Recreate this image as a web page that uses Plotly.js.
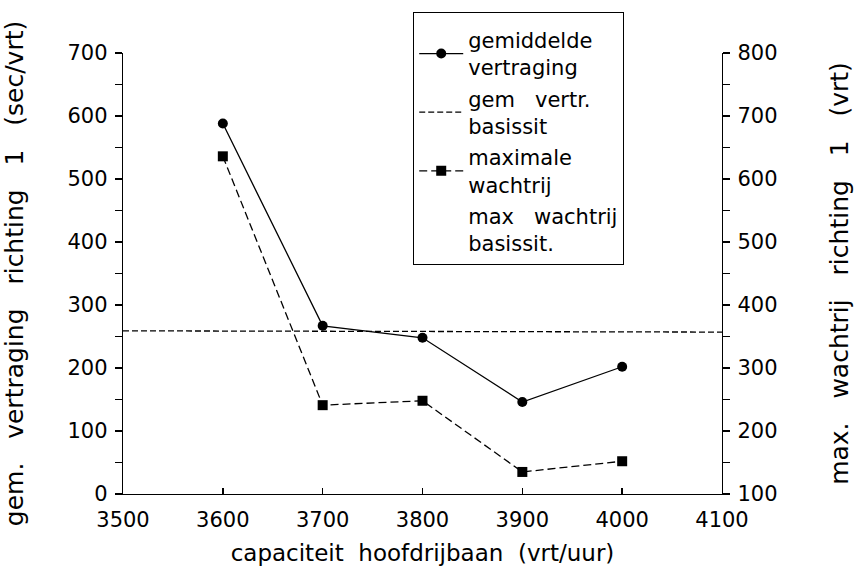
<!DOCTYPE html>
<html>
<head>
<meta charset="utf-8">
<script src="https://cdn.plot.ly/plotly-3.0.1.min.js"></script>
<style>html,body{margin:0;padding:0;background:#fff;}#chart{width:863px;height:578px;}</style>
</head>
<body>
<div id="chart"></div>
<script>
// Data
const capaciteit = [3600, 3700, 3800, 3900, 4000];
const gemVertraging = [588, 267, 248, 146, 202];      // left axis (sec/vrt)
const maxWachtrij = [636, 241, 248, 135, 152];        // right axis (vrt)
const basisX = [3500, 4100];
const basisVertraging = [259, 257];                   // left axis
const legendNames = [
  'gemiddelde<br>vertraging',
  'gem   vertr.<br>basissit',
  'maximale<br>wachtrij',
  'max   wachtrij<br>basissit.'
];
// Tick values (every 50, labelled every 100)
const yLeftTickVals = [0, 50, 100, 150, 200, 250, 300, 350, 400, 450, 500, 550, 600, 650, 700];
const yLeftTickText = ['0', '', '100', '', '200', '', '300', '', '400', '', '500', '', '600', '', '700'];
const yRightTickVals = [100, 150, 200, 250, 300, 350, 400, 450, 500, 550, 600, 650, 700, 750, 800];
const yRightTickText = ['100', '', '200', '', '300', '', '400', '', '500', '', '600', '', '700', '', '800'];

const FONT = 'DejaVu Sans, sans-serif';

const traces = [
  {
    x: capaciteit, y: gemVertraging, name: legendNames[0], legendgroup: 'a',
    mode: 'lines+markers', type: 'scatter',
    line: {color: '#000', width: 1.3},
    marker: {symbol: 'circle', size: 10, color: '#000'}
  },
  {
    x: basisX, y: basisVertraging, name: legendNames[1], legendgroup: 'b',
    mode: 'lines', type: 'scatter',
    line: {color: '#000', width: 1.3, dash: '6px,3px'}
  },
  {
    x: capaciteit, y: maxWachtrij, name: legendNames[2], legendgroup: 'c',
    mode: 'lines+markers', type: 'scatter', yaxis: 'y2',
    line: {color: '#000', width: 1.3, dash: '8px,4px'},
    marker: {symbol: 'square', size: 10, color: '#000'}
  },
  {
    x: [null], y: [null], name: legendNames[3], legendgroup: 'd',
    mode: 'lines', type: 'scatter', yaxis: 'y2',
    line: {color: 'rgba(0,0,0,0)', width: 0}
  }
];

const tickFont = {family: FONT, size: 21, color: '#000'};

const layout = {
  width: 863, height: 578,
  margin: {l: 123, r: 141, t: 53, b: 84},
  paper_bgcolor: '#fff', plot_bgcolor: '#fff',
  font: {family: FONT, color: '#000', size: 18},
  showlegend: true,
  legend: {
    x: 0.484, xanchor: 'left', y: 1.093, yanchor: 'top',
    bgcolor: '#fff', bordercolor: '#000', borderwidth: 1.3,
    font: {family: FONT, size: 21, color: '#000'},
    title: {text: '&nbsp;', font: {family: FONT, size: 5}},
    itemwidth: 44, tracegroupgap: 1
  },
  xaxis: {
    range: [3500, 4100], dtick: 100, tick0: 3500,
    showgrid: false, zeroline: false,
    showline: true, linecolor: '#000', linewidth: 1.3,
    ticks: 'inside', ticklen: 6, tickcolor: '#000', tickwidth: 1.6,
    ticklabelstandoff: 6,
    tickfont: tickFont,
    title: {text: 'capaciteit  hoofdrijbaan  (vrt/uur)', font: {family: FONT, size: 23, color: '#000'}, standoff: 14}
  },
  yaxis: {
    range: [0, 700], tickmode: 'array', tickvals: yLeftTickVals, ticktext: yLeftTickText,
    showgrid: false, zeroline: false,
    showline: true, linecolor: '#000', linewidth: 1.3,
    ticks: 'outside', ticklen: 7, tickcolor: '#000', tickwidth: 1.6,
    ticklabelstandoff: 3,
    tickfont: tickFont,
    title: {text: 'gem.   vertraging   richting   1   (sec/vrt)', font: {family: FONT, size: 25, color: '#000'}, standoff: 36}
  },
  yaxis2: {
    overlaying: 'y', side: 'right',
    range: [100, 800], tickmode: 'array', tickvals: yRightTickVals, ticktext: yRightTickText,
    showgrid: false, zeroline: false,
    showline: true, linecolor: '#000', linewidth: 1.3,
    ticks: 'outside', ticklen: 7, tickcolor: '#000', tickwidth: 1.6,
    ticklabelstandoff: 3,
    tickfont: tickFont,
    title: {text: 'max.   wachtrij   richting   1   (vrt)', font: {family: FONT, size: 25, color: '#000'}, standoff: 54}
  }
};

Plotly.newPlot('chart', traces, layout, {displayModeBar: false, staticPlot: true});
</script>
</body>
</html>
